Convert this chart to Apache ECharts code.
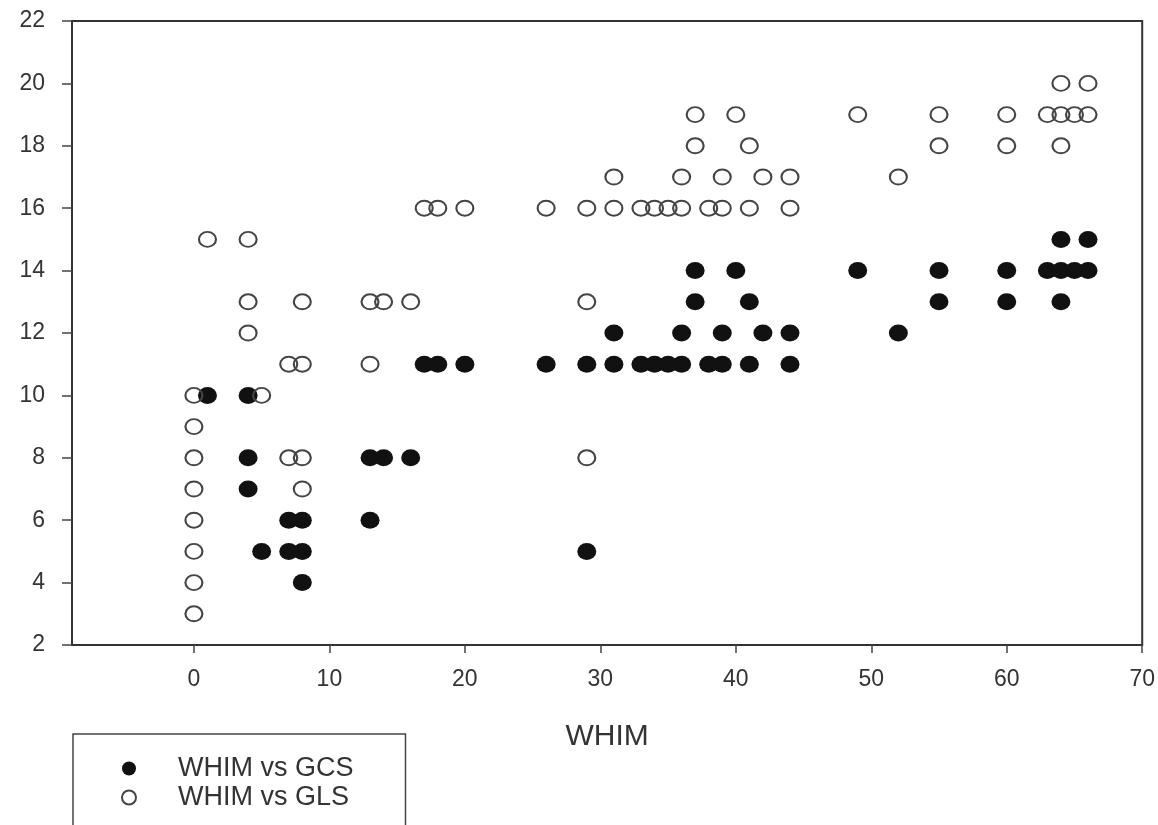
<!DOCTYPE html>
<html>
<head>
<meta charset="utf-8">
<script src="https://cdn.jsdelivr.net/npm/echarts@6/dist/echarts.min.js"></script>
<style>
  html, body { margin: 0; padding: 0; background: #fff; }
  #chart { width: 1158px; height: 825px; }
</style>
</head>
<body>
<div id="chart"></div>
<script>
// WHIM vs GCS (filled markers)
const gcsX = [1, 4, 4, 4, 5, 7, 8, 7, 8, 8, 13, 14, 16, 13, 17, 18, 20, 26, 29, 29, 31, 31, 33, 34, 35, 36, 36, 37, 37, 38, 39, 39, 40, 41, 41, 42, 44, 44, 49, 52, 55, 55, 60, 60, 63, 64, 64, 64, 65, 66, 66];
const gcsY = [10, 10, 8, 7, 5, 6, 6, 5, 5, 4, 8, 8, 8, 6, 11, 11, 11, 11, 11, 5, 11, 12, 11, 11, 11, 11, 12, 13, 14, 11, 11, 12, 14, 11, 13, 12, 11, 12, 14, 12, 13, 14, 13, 14, 14, 14, 13, 15, 14, 14, 15];
// WHIM vs GLS (open markers)
const glsX = [0, 0, 0, 0, 0, 0, 0, 0, 1, 4, 4, 4, 5, 7, 8, 7, 8, 8, 8, 13, 14, 16, 13, 17, 18, 20, 26, 29, 29, 29, 31, 31, 33, 34, 35, 36, 36, 37, 37, 38, 39, 39, 40, 41, 41, 42, 44, 44, 49, 52, 55, 55, 60, 60, 63, 64, 64, 64, 65, 66, 66];
const glsY = [3, 4, 5, 6, 7, 8, 9, 10, 15, 15, 13, 12, 10, 11, 11, 8, 8, 7, 13, 13, 13, 13, 11, 16, 16, 16, 16, 16, 13, 8, 16, 17, 16, 16, 16, 16, 17, 18, 19, 16, 16, 17, 19, 16, 18, 17, 16, 17, 19, 17, 18, 19, 18, 19, 19, 19, 18, 20, 19, 19, 20];

const seriesNames = ['WHIM vs GCS', 'WHIM vs GLS'];
const xAxisName = 'WHIM';

const pairs = (xs, ys) => xs.map((x, i) => [x, ys[i]]);
const FONT = '"Liberation Sans", Arial, sans-serif';
const TXT = '#333';

const chart = echarts.init(document.getElementById('chart'), null, { renderer: 'canvas' });
chart.setOption({
  backgroundColor: '#fff',
  animation: false,
  grid: {
    left: 72, right: 15, top: 21, bottom: 180,
    show: true, borderColor: '#333', borderWidth: 2, backgroundColor: 'transparent'
  },
  xAxis: {
    type: 'value',
    min: -9, max: 70,
    splitNumber: 8, minInterval: 10, maxInterval: 10,
    name: xAxisName,
    nameLocation: 'middle',
    nameGap: 77,
    nameTextStyle: { fontFamily: FONT, fontSize: 30, color: TXT },
    axisLine: { show: true, onZero: false, lineStyle: { color: '#333', width: 2 } },
    axisTick: { show: true, inside: false, length: 8, lineStyle: { color: '#444', width: 1.5 } },
    axisLabel: { showMinLabel: false, margin: 23, fontFamily: FONT, fontSize: 23, color: TXT },
    splitLine: { show: false }
  },
  yAxis: {
    type: 'value',
    min: 2, max: 22, interval: 2,
    axisLine: { show: true, onZero: false, lineStyle: { color: '#333', width: 2 } },
    axisTick: { show: true, inside: false, length: 10, lineStyle: { color: '#444', width: 1.5 } },
    axisLabel: { margin: 27, fontFamily: FONT, fontSize: 23, color: TXT },
    splitLine: { show: false }
  },
  legend: {
    orient: 'vertical',
    left: 73, top: 734,
    height: 150,
    padding: [20, 52, 40, 48],
    itemWidth: 14, itemHeight: 14, itemGap: 0,
    backgroundColor: '#fff',
    borderColor: '#444', borderWidth: 1.5, borderRadius: 0,
    textStyle: { fontFamily: FONT, fontSize: 27, color: TXT, lineHeight: 29, padding: [0, 0, 0, 37] },
    data: seriesNames
  },
  series: [
    {
      name: seriesNames[0],
      type: 'scatter',
      symbol: 'circle',
      symbolSize: [19, 17],
      itemStyle: { color: '#111', opacity: 1 },
      data: pairs(gcsX, gcsY)
    },
    {
      name: seriesNames[1],
      type: 'scatter',
      symbol: 'circle',
      symbolSize: [17, 15],
      itemStyle: { color: 'rgba(255,255,255,0)', borderColor: '#444', borderWidth: 2, opacity: 1 },
      data: pairs(glsX, glsY)
    }
  ]
});
</script>
</body>
</html>
